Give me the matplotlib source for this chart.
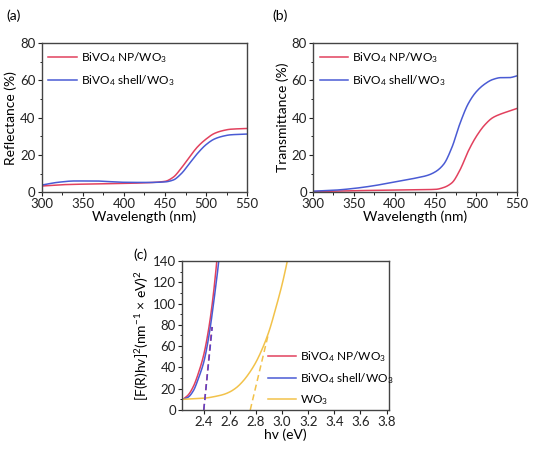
import matplotlib
matplotlib.use('Agg')
import matplotlib.pyplot as plt
import numpy as np

plt.rcParams['font.family'] = ['Lato', 'DejaVu Sans']
plt.rcParams['mathtext.fontset'] = 'custom'
plt.rcParams['mathtext.rm'] = 'Lato'
plt.rcParams['mathtext.it'] = 'Lato:italic'
plt.rcParams['font.size'] = 9.5

RED = '#e2415e'
BLUE = '#4a5bd4'
YELLOW = '#f2c24a'

# (a) reflectance
wl_a = [300, 325, 350, 375, 400, 425, 450, 460, 470, 480, 490, 500, 510, 520, 530, 550]
refl_np = [3.3, 4.0, 4.3, 4.5, 4.7, 5.0, 5.8, 8.0, 13, 19, 24.5, 28.5, 31.5, 33, 33.8, 34.2]
wl_a2 = [300, 320, 340, 365, 380, 400, 430, 450, 460, 470, 480, 490, 500, 510, 520, 530, 550]
refl_shell = [3.8, 5.3, 6.0, 6.0, 5.7, 5.3, 5.2, 5.5, 6.5, 10, 15.5, 21, 25.5, 28.5, 30, 30.8, 31.2]

# (b) transmittance
wl_b = [300, 325, 350, 375, 400, 425, 440, 450, 460, 470, 480, 490, 500, 510, 520, 530, 540, 550]
trans_shell = [0.5, 1.0, 2.0, 3.5, 5.5, 7.5, 9.0, 11.0, 15, 24, 37, 47.5, 54, 58, 60.5, 61.5, 61.5, 62.5]
wl_b2 = [300, 350, 400, 450, 460, 470, 480, 490, 500, 510, 520, 530, 540, 550]
trans_np = [0.3, 0.8, 1.1, 1.5, 2.5, 5, 12, 22, 30, 36, 40, 42, 43.5, 45]

# (c) Tauc plot
hv_np = [2.24, 2.28, 2.32, 2.36, 2.40, 2.44, 2.47, 2.50, 2.53]
tauc_np = [10, 14, 22, 35, 52, 78, 105, 140, 180]
hv_shell = [2.24, 2.28, 2.32, 2.36, 2.40, 2.44, 2.48, 2.515, 2.54]
tauc_shell = [10, 12, 18, 30, 45, 70, 105, 140, 170]
hv_wo3 = [2.24, 2.4, 2.5, 2.55, 2.6, 2.65, 2.7, 2.75, 2.8, 2.85, 2.9, 2.95, 3.0, 3.04, 3.08]
tauc_wo3 = [10, 11, 13, 14.5, 17, 21, 27, 35, 45, 58, 74, 95, 118, 140, 165]
fit_np = ([2.40, 2.462], [0, 78])
fit_shell = ([2.40, 2.465], [0, 78])
fit_wo3 = ([2.756, 2.896], [0, 72])

lab_np = 'BiVO$_4$ NP/WO$_3$'
lab_shell = 'BiVO$_4$ shell/WO$_3$'


def pchip(x, y, n=300):
    # monotone cubic interpolation through the read points
    x = np.asarray(x, float)
    y = np.asarray(y, float)
    h = np.diff(x)
    d = np.diff(y) / h
    m = np.zeros_like(y)
    for i in range(1, len(x) - 1):
        if d[i - 1] * d[i] > 0:
            w1 = 2 * h[i] + h[i - 1]
            w2 = h[i] + 2 * h[i - 1]
            m[i] = (w1 + w2) / (w1 / d[i - 1] + w2 / d[i])
    m[0] = d[0]
    m[-1] = d[-1]
    xs = np.linspace(x[0], x[-1], n)
    idx = np.clip(np.searchsorted(x, xs) - 1, 0, len(x) - 2)
    t = (xs - x[idx]) / h[idx]
    h00 = 2 * t**3 - 3 * t**2 + 1
    h10 = t**3 - 2 * t**2 + t
    h01 = -2 * t**3 + 3 * t**2
    h11 = t**3 - t**2
    ys = h00 * y[idx] + h10 * h[idx] * m[idx] + h01 * y[idx + 1] + h11 * h[idx] * m[idx + 1]
    return xs, ys


def style(ax):
    for s in ax.spines.values():
        s.set_color('#444444')
        s.set_linewidth(1.0)
    ax.tick_params(direction='out', length=3, width=0.8, colors='#222222', pad=1.5)
    ax.tick_params(which='minor', direction='out', length=1.8, width=0.6)
    ax.tick_params(top=False, right=False)


leg_kw = dict(frameon=False, handlelength=2.4, fontsize=8.6, handletextpad=0.3)

fig = plt.figure(figsize=(5.36, 4.5), dpi=100)

ax1 = fig.add_axes([0.078, 0.573, 0.383, 0.331])
ax1.plot(*pchip(wl_a, refl_np), color=RED, lw=1.1, label=lab_np)
ax1.plot(*pchip(wl_a2, refl_shell), color=BLUE, lw=1.1, label=lab_shell)
ax1.set_xlim(300, 550)
ax1.set_ylim(0, 80)
ax1.set_xticks([300, 350, 400, 450, 500, 550])
ax1.set_yticks([0, 20, 40, 60, 80])
ax1.set_xticks(np.arange(325, 550, 50), minor=True)
ax1.set_yticks(np.arange(10, 80, 20), minor=True)
ax1.set_xlabel('Wavelength (nm)', fontsize=10, labelpad=0)
ax1.set_ylabel('Reflectance (%)', fontsize=10, labelpad=2)
ax1.legend(loc='upper left', borderaxespad=0.15, labelspacing=0.75, **leg_kw)
style(ax1)
fig.text(0.012, 0.955, '(a)', fontsize=10)

ax2 = fig.add_axes([0.584, 0.573, 0.381, 0.331])
ax2.plot(*pchip(wl_b2, trans_np), color=RED, lw=1.1, label=lab_np)
ax2.plot(*pchip(wl_b, trans_shell), color=BLUE, lw=1.1, label=lab_shell)
ax2.set_xlim(300, 550)
ax2.set_ylim(0, 80)
ax2.set_xticks([300, 350, 400, 450, 500, 550])
ax2.set_yticks([0, 20, 40, 60, 80])
ax2.set_xticks(np.arange(325, 550, 50), minor=True)
ax2.set_yticks(np.arange(10, 80, 20), minor=True)
ax2.set_xlabel('Wavelength (nm)', fontsize=10, labelpad=0)
ax2.set_ylabel('Transmittance (%)', fontsize=10, labelpad=2)
ax2.legend(loc='upper left', borderaxespad=0.15, labelspacing=0.75, **leg_kw)
style(ax2)
fig.text(0.508, 0.955, '(b)', fontsize=10)

ax3 = fig.add_axes([0.340, 0.089, 0.386, 0.331])
ax3.plot(*pchip(hv_np, tauc_np), color=RED, lw=1.1, label=lab_np)
ax3.plot(*pchip(hv_shell, tauc_shell), color=BLUE, lw=1.1, label=lab_shell)
ax3.plot(*pchip(hv_wo3, tauc_wo3), color=YELLOW, lw=1.1, label='WO$_3$')
ax3.plot(*fit_np, color=RED, lw=1.1, ls=(0, (4, 2.5)))
ax3.plot(*fit_shell, color='#5a45c8', lw=1.1, ls=(0, (4, 2.5)))
ax3.plot(*fit_wo3, color=YELLOW, lw=1.1, ls=(0, (4, 2.5)))
ax3.set_xlim(2.235, 3.82)
ax3.set_ylim(0, 140)
ax3.set_xticks(np.arange(2.4, 3.81, 0.2))
ax3.set_xticklabels([f'{v:.1f}' for v in np.arange(2.4, 3.81, 0.2)])
ax3.set_yticks(np.arange(0, 141, 20))
ax3.set_yticks(np.arange(10, 140, 20), minor=True)
ax3.set_xlabel('hv (eV)', fontsize=10, labelpad=0)
ax3.set_ylabel('[F(R)hv]$^2$(nm$^{-1}$ × eV)$^2$', fontsize=10, labelpad=1)
ax3.legend(loc='lower left', borderaxespad=0.0, labelspacing=0.6,
           bbox_to_anchor=(0.39, -0.01), **leg_kw)
style(ax3)
fig.text(0.248, 0.425, '(c)', fontsize=10)

fig.savefig('out.png', dpi=100)
